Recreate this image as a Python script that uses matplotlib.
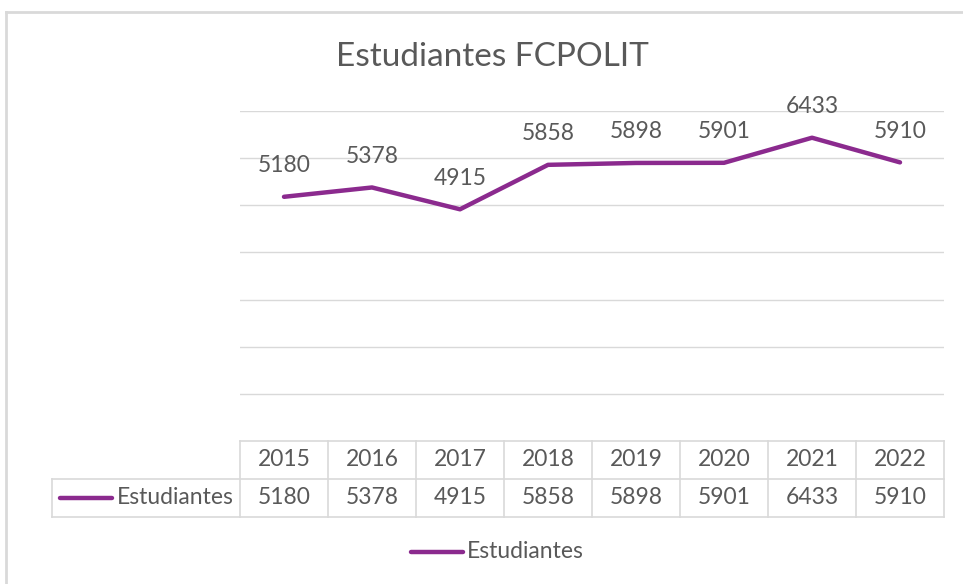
import matplotlib.pyplot as plt
import matplotlib.transforms as mtransforms
from matplotlib.lines import Line2D

years = ['2015', '2016', '2017', '2018', '2019', '2020', '2021', '2022']
estudiantes = [5180, 5378, 4915, 5858, 5898, 5901, 6433, 5910]
serie = 'Estudiantes'
titulo = 'Estudiantes FCPOLIT'

W, H = 963, 584
purple = '#8B2A8E'
grid_c = '#d9d9d9'
txt_c = '#595959'
fs = 16.5
plt.rcParams['font.family'] = ['Lato', 'DejaVu Sans']

fig = plt.figure(figsize=(W / 100, H / 100), dpi=100)

def fx(px):
    return px / W

def fy(py):
    return 1 - py / H

# plot area in pixel coords
x0, x1, ytop, ybot = 240, 944, 111, 441
ax = fig.add_axes([fx(x0), fy(ybot), fx(x1) - fx(x0), fy(ytop) - fy(ybot)])
n = len(years)
xs = list(range(n))
ax.set_xlim(-0.5, n - 0.5)
ax.set_ylim(0, 7000)
for v in range(1000, 7001, 1000):
    ax.axhline(v, color=grid_c, lw=1, zorder=0)
for s in ax.spines.values():
    s.set_visible(False)
ax.set_xticks([])
ax.set_yticks([])

ax.plot(xs, estudiantes, color=purple, lw=3.2, solid_capstyle='round',
        solid_joinstyle='round', zorder=3)
for x, v in zip(xs, estudiantes):
    ax.annotate(str(v), (x, v), xytext=(0, 31), textcoords='offset pixels',
                ha='center', va='center', fontsize=fs, color=txt_c)

fig.text(fx(492), fy(57), titulo, ha='center', va='center',
         fontsize=24, color=txt_c)

# outer chart border
fig.add_artist(Line2D([fx(6), fx(6)], [fy(12), fy(600)], color=grid_c, lw=2))
fig.add_artist(Line2D([fx(6), fx(970)], [fy(12), fy(12)], color=grid_c, lw=2))

# data table
trans = mtransforms.blended_transform_factory(ax.transData, fig.transFigure)
r0, r1, r2 = 441, 479, 517
lx = 52
def hline(xa, xb, py):
    fig.add_artist(Line2D([fx(xa), fx(xb)], [fy(py), fy(py)], color=grid_c, lw=1.2))
def vline(px, ya, yb):
    fig.add_artist(Line2D([fx(px), fx(px)], [fy(ya), fy(yb)], color=grid_c, lw=1.2))

hline(x0, x1, r0)
hline(lx, x1, r1)
hline(lx, x1, r2)
cw = (x1 - x0) / n
for i in range(n + 1):
    vline(x0 + i * cw, r0, r2)
vline(lx, r1, r2)

for x, yr, v in zip(xs, years, estudiantes):
    fig.text(x, fy((r0 + r1) / 2), yr, transform=trans, ha='center',
             va='center', fontsize=fs, color=txt_c)
    fig.text(x, fy((r1 + r2) / 2), str(v), transform=trans, ha='center',
             va='center', fontsize=fs, color=txt_c)

fig.add_artist(Line2D([fx(60), fx(112)], [fy(498), fy(498)], color=purple,
                      lw=3.2, solid_capstyle='round'))
fig.text(fx(117), fy(498), serie, ha='left', va='center', fontsize=fs, color=txt_c)

# legend
fig.add_artist(Line2D([fx(411), fx(463)], [fy(552), fy(552)], color=purple,
                      lw=3.2, solid_capstyle='round'))
fig.text(fx(467), fy(552), serie, ha='left', va='center', fontsize=fs, color=txt_c)

fig.savefig('out.png', dpi=100, facecolor='white')
